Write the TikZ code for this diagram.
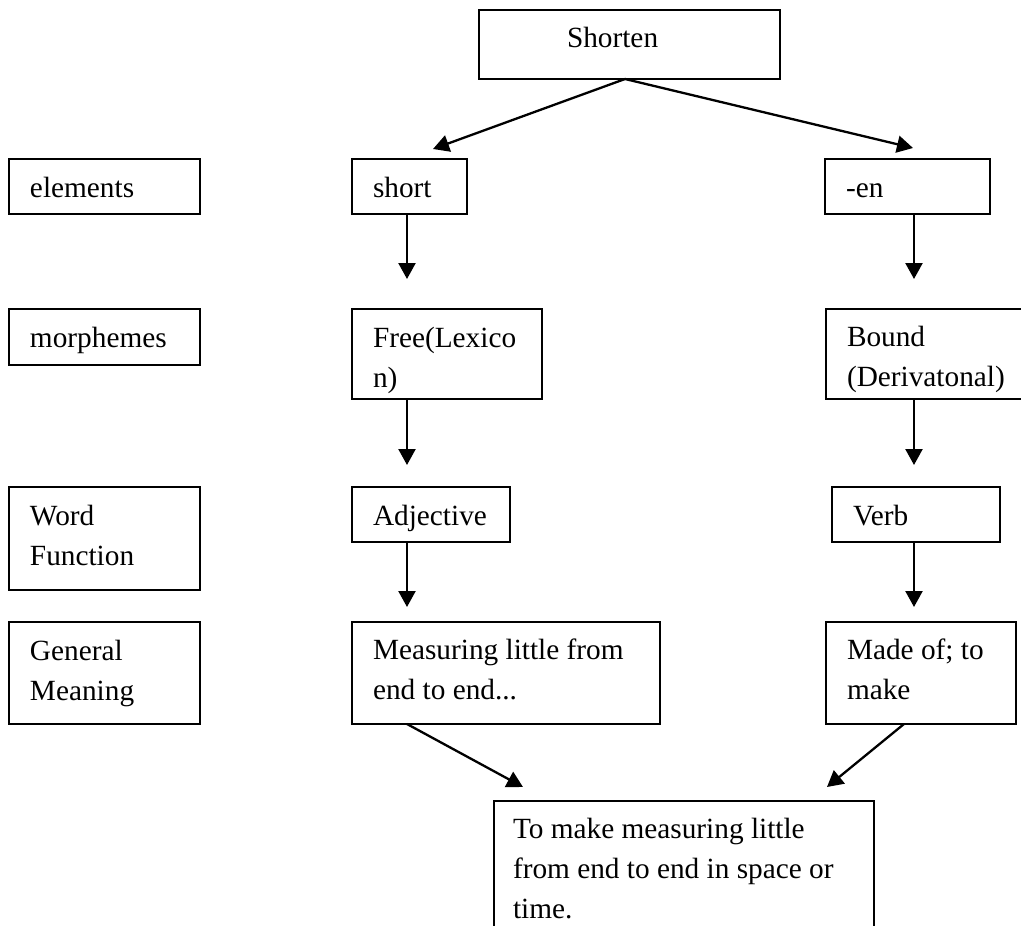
\documentclass[tikz,border=0pt]{standalone}
\usepackage{fontspec}
\setmainfont{Liberation Serif}
\usetikzlibrary{arrows.meta,calc}
% left-aligned block whose baseline is that of its first line
\newcommand{\boxlines}[1]{\begin{tabular}[t]{@{}l@{}}#1\end{tabular}}
\begin{document}
\begin{tikzpicture}[x=1pt,y=-1pt,
  box/.style={draw, line width=2.3pt, rectangle, inner sep=0pt, outer sep=0pt, anchor=north west},
  lbl/.style={anchor=base west, inner sep=0pt, outer sep=0pt, font=\fontsize{29.3}{40}\selectfont},
  arr/.style={line width=2.3pt, -{Triangle[width=17pt,length=16pt]}}]
\fill[white] (0,0) rectangle (1021,926);
\useasboundingbox (0,0) rectangle (1021,926);

% columns of the vertical arrows
\coordinate (colL) at (407,0);
\coordinate (colR) at (914,0);

% the word
\node[box, minimum width=301pt, minimum height=69pt] (shorten) at (479,10) {};
\node[lbl] (tshorten) at ([xshift=88pt,yshift=-37pt]shorten.north west) {Shorten};

% row headings
\node[box, minimum width=191pt, minimum height=55pt] (elements) at (9,159) {};
\node[lbl] (telements) at ([xshift=21pt,yshift=-38pt]elements.north west) {elements};
\node[box, minimum width=191pt, minimum height=56pt] (morph) at (9,309) {};
\node[lbl] (tmorph) at ([xshift=21pt,yshift=-38pt]morph.north west) {morphemes};
\node[box, minimum width=191pt, minimum height=103pt] (wordfn) at (9,487) {};
\node[lbl] (twordfn) at ([xshift=21pt,yshift=-38pt]wordfn.north west) {\boxlines{Word\\Function}};
\node[box, minimum width=191pt, minimum height=102pt] (genmean) at (9,622) {};
\node[lbl] (tgenmean) at ([xshift=21pt,yshift=-38pt]genmean.north west) {\boxlines{General\\Meaning}};

% left branch: the stem
\node[box, minimum width=115pt, minimum height=55pt] (short) at (352,159) {};
\node[lbl] (tshort) at ([xshift=21pt,yshift=-38pt]short.north west) {short};
\node[box, minimum width=190pt, minimum height=90pt] (free) at (352,309) {};
\node[lbl] (tfree) at ([xshift=21pt,yshift=-38pt]free.north west) {\boxlines{Free(Lexico\\n)}};
\node[box, minimum width=158pt, minimum height=55pt] (adj) at (352,487) {};
\node[lbl] (tadj) at ([xshift=21pt,yshift=-38pt]adj.north west) {Adjective};
\node[box, minimum width=308pt, minimum height=102pt] (meas) at (352,622) {};
\node[lbl] (tmeas) at ([xshift=21pt,yshift=-37pt]meas.north west) {\boxlines{Measuring little from\\end to end...}};

% right branch: the suffix
\node[box, minimum width=165pt, minimum height=55pt] (en) at (825,159) {};
\node[lbl] (ten) at ([xshift=21pt,yshift=-38pt]en.north west) {-en};
\node[box, minimum width=212pt, minimum height=90pt] (bound) at (826,309) {};
\node[lbl] (tbound) at ([xshift=21pt,yshift=-37pt]bound.north west) {\boxlines{Bound\\(Derivatonal)}};
\node[box, minimum width=168pt, minimum height=55pt] (verb) at (832,487) {};
\node[lbl] (tverb) at ([xshift=21pt,yshift=-38pt]verb.north west) {Verb};
\node[box, minimum width=190pt, minimum height=102pt] (made) at (826,622) {};
\node[lbl] (tmade) at ([xshift=21pt,yshift=-37pt]made.north west) {\boxlines{Made of; to\\make}};

% combined meaning
\node[box, minimum width=380pt, minimum height=150pt] (final) at (494,801) {};
\node[lbl] (tfinal) at ([xshift=19pt,yshift=-37pt]final.north west) {\boxlines{To make measuring little\\from end to end in space or\\time.}};

% connectors
\draw[arr] ([xshift=-4.5pt]shorten.south) -- ([xshift=23.5pt,yshift=10pt]short.north);
\draw[arr] ([xshift=-4.5pt]shorten.south) -- ([xshift=5.5pt,yshift=11pt]en.north);
\draw[arr] (short.south -| colL) -- ([yshift=30pt]free.north -| colL);
\draw[arr] (en.south -| colR) -- ([yshift=30pt]bound.north -| colR);
\draw[arr] (free.south -| colL) -- ([yshift=22pt]adj.north -| colL);
\draw[arr] (bound.south -| colR) -- ([yshift=22pt]verb.north -| colR);
\draw[arr] (adj.south -| colL) -- ([yshift=15pt]meas.north -| colL);
\draw[arr] (verb.south -| colR) -- ([yshift=15pt]made.north -| colR);
\draw[arr] ([xshift=55pt]meas.south west) -- ([xshift=29pt,yshift=14pt]final.north west);
\draw[arr] ([xshift=78pt]made.south west) -- ([xshift=-47pt,yshift=14pt]final.north east);
\end{tikzpicture}
\end{document}
